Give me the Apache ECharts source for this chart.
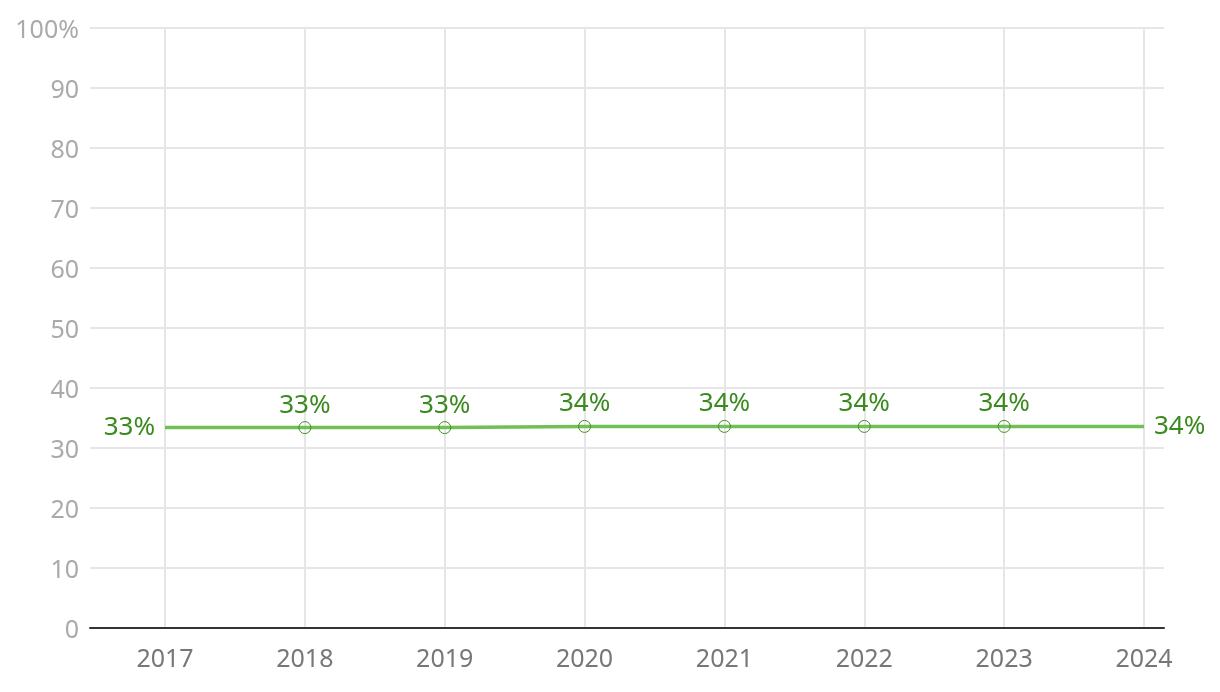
<!DOCTYPE html>
<html>
<head>
<meta charset="utf-8">
<script src="https://cdn.jsdelivr.net/npm/echarts@6/dist/echarts.min.js"></script>
<style>html,body{margin:0;padding:0;background:#fff}#c{width:1220px;height:692px}</style>
</head>
<body>
<div id="c"></div>
<script>
const years = ['2017','2018','2019','2020','2021','2022','2023','2024'];
const values = [33.4, 33.4, 33.4, 33.6, 33.6, 33.6, 33.6, 33.6];
const yTicks = [0,10,20,30,40,50,60,70,80,90,100];

const FONT = '"Noto Sans", "Open Sans", sans-serif';
const lastIdx = values.length - 1;
const seriesData = values.map((v, i) => {
  const item = { value: v };
  if (i === 0) {
    item.symbolSize = 0;
    item.label = { position: 'left', distance: 10 };
  } else if (i === lastIdx) {
    item.symbolSize = 0;
    item.label = { position: 'right', distance: 10 };
  }
  return item;
});

const chart = echarts.init(document.getElementById('c'), null, { renderer: 'canvas' });
chart.setOption({
  animation: false,
  grid: [
    { left: 90, right: 56, top: 28, bottom: 64 },
    { left: 165, right: 76, top: 28, bottom: 64 }
  ],
  xAxis: [
    {
      gridIndex: 0, type: 'value', min: 0, max: 1,
      axisLine: { show: true, lineStyle: { color: '#333', width: 2 } },
      axisTick: { show: false }, axisLabel: { show: false }, splitLine: { show: false }
    },
    {
      gridIndex: 1, type: 'category', data: years, boundaryGap: false,
      axisLine: { show: false }, axisTick: { show: false },
      axisLabel: { color: '#777', fontSize: 25, fontFamily: FONT, margin: 19 },
      splitLine: { show: true, lineStyle: { color: '#e6e6e6', width: 2 } }
    }
  ],
  yAxis: [
    {
      gridIndex: 0, type: 'value', min: 0, max: 100, interval: 10,
      axisLine: { show: false }, axisTick: { show: false },
      axisLabel: {
        color: '#aaa', fontSize: 25, fontFamily: FONT, margin: 11,
        formatter: v => '{a|' + (v === 100 ? '100%' : String(v)) + '}',
        rich: { a: { color: '#aaa', fontSize: 25, fontFamily: FONT, padding: [6, 0, 0, 0] } }
      },
      splitLine: { show: true, lineStyle: { color: '#e6e6e6', width: 2 } }
    },
    {
      gridIndex: 1, type: 'value', min: 0, max: 100,
      show: false, splitLine: { show: false }
    }
  ],
  series: [{
    type: 'line',
    xAxisIndex: 1, yAxisIndex: 1,
    data: seriesData,
    symbol: 'circle', symbolSize: 12, showAllSymbol: true,
    lineStyle: { color: '#72bf55', width: 3.5 },
    itemStyle: { color: 'rgba(255,255,255,0)', borderColor: '#3f8f26', borderWidth: 1 },
    label: {
      show: true, position: 'top', distance: 3,
      color: '#3a8a1e', fontSize: 26, fontFamily: FONT,
      formatter: p => Math.round(p.value) + '%'
    },
    emphasis: { disabled: true },
    z: 5
  }]
});
</script>
</body>
</html>
